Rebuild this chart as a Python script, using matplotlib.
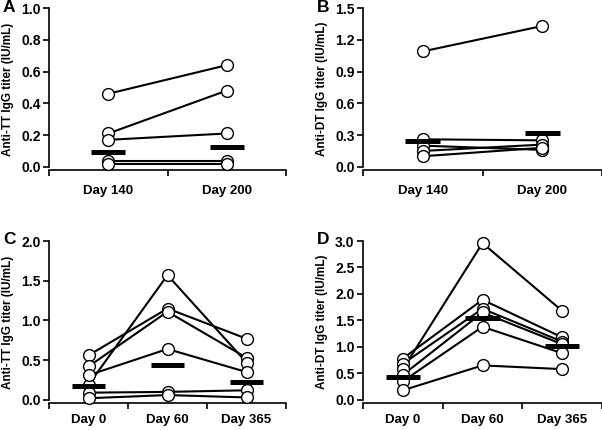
import matplotlib
matplotlib.use('Agg')
import matplotlib.pyplot as plt

plt.rcParams['font.family'] = ['Liberation Sans', 'DejaVu Sans']
plt.rcParams['font.weight'] = 'bold'

# panel A - anti-TT, day 140 / 200
a_days = ['Day 140', 'Day 200']
a_subjects = [
    [0.46, 0.64],
    [0.21, 0.48],
    [0.17, 0.21],
    [0.035, 0.035],
    [0.015, 0.015],
]
a_means = [0.093, 0.123]

# panel B - anti-DT, day 140 / 200
b_days = ['Day 140', 'Day 200']
b_subjects = [
    [1.09, 1.33],
    [0.26, 0.25],
    [0.20, 0.16],
    [0.15, 0.21],
    [0.10, 0.18],
]
b_means = [0.24, 0.32]

# panel C - anti-TT, day 0 / 60 / 365
c_days = ['Day 0', 'Day 60', 'Day 365']
c_subjects = [
    [0.56, 1.15, 0.77],
    [0.42, 1.11, 0.53],
    [0.19, 1.57, 0.47],
    [0.31, 0.64, 0.35],
    [0.09, 0.10, 0.12],
    [0.02, 0.06, 0.03],
]
c_means = [0.17, 0.44, 0.23]

# panel D - anti-DT, day 0 / 60 / 365
d_days = ['Day 0', 'Day 60', 'Day 365']
d_subjects = [
    [0.78, 1.89, 1.18],
    [0.68, 1.72, 1.10],
    [0.58, 2.96, 1.68],
    [0.47, 1.65, 1.05],
    [0.35, 1.38, 0.88],
    [0.18, 0.65, 0.58],
]
d_means = [0.43, 1.55, 1.02]

W, H = 602, 430
fig = plt.figure(figsize=(W / 100, H / 100), dpi=100)


def panel(rect, days, subjects, means, ymax, ystep, ylabel, letter, halfbar, lx, xpad):
    x0, y0, x1, y1 = rect  # pixel coords, y measured from top
    ax = fig.add_axes([x0 / W, 1 - y1 / H, (x1 - x0) / W, (y1 - y0) / H])
    n = len(days)
    xs = list(range(n))
    for s in subjects:
        ax.plot(xs, s, color='black', lw=1.5, zorder=2, clip_on=False)
    for s in subjects:
        ax.plot(xs, s, 'o', ms=8.5, mfc='white', mec='black', mew=1.0,
                zorder=3, clip_on=False)
    for x, m in zip(xs, means):
        ax.plot([x - halfbar, x + halfbar], [m, m], color='black', lw=3.6,
                solid_capstyle='butt', zorder=4, clip_on=False)

    pad = ymax * 0.02
    ax.set_ylim(-pad, ymax)
    ax.set_xlim(-0.5, n - 0.5)
    yt = [round(i * ystep, 2) for i in range(int(round(ymax / ystep)) + 1)]
    ax.set_yticks(yt)
    ax.set_yticklabels(['%.1f' % v for v in yt])
    ax.spines['left'].set_bounds(0, ymax)
    ax.set_xticks([i - 0.5 for i in range(n + 1)])
    ax.set_xticklabels([])
    ax.set_xticks(xs, minor=True)
    ax.set_xticklabels(days, minor=True)
    ax.tick_params(axis='x', which='major', direction='out', length=4, width=1.2)
    ax.tick_params(axis='x', which='minor', length=0, pad=xpad, labelsize=9.5)
    ax.tick_params(axis='y', direction='out', length=4, width=1.2, labelsize=10, pad=2)
    for sp in ['top', 'right']:
        ax.spines[sp].set_visible(False)
    for sp in ['left', 'bottom']:
        ax.spines[sp].set_linewidth(1.2)
    ax.set_ylabel(ylabel, fontsize=8.5, fontweight='bold', va='center')
    ax.yaxis.set_label_coords((lx - x0) / (x1 - x0), 0.5)
    fig.text((x0 - 46) / W, 1 - (y0 - 1) / H, letter, fontsize=12.5,
             fontweight='bold', ha='left', va='center')
    return ax


panel((49, 8, 286, 170), a_days, a_subjects, a_means, 1.0, 0.2,
      'Anti-TT IgG titer (IU/mL)', 'A', 0.145, 8, 11)
panel((363, 8, 602, 170), b_days, b_subjects, b_means, 1.5, 0.3,
      'Anti-DT IgG titer (IU/mL)', 'B', 0.145, 322, 11)
panel((49, 241, 286, 403), c_days, c_subjects, c_means, 2.0, 0.5,
      'Anti-TT IgG titer (IU/mL)', 'C', 0.215, 8, 8)
panel((363, 241, 602, 403), d_days, d_subjects, d_means, 3.0, 0.5,
      'Anti-DT IgG titer (IU/mL)', 'D', 0.215, 322, 8)

fig.savefig('out.png', dpi=100)
